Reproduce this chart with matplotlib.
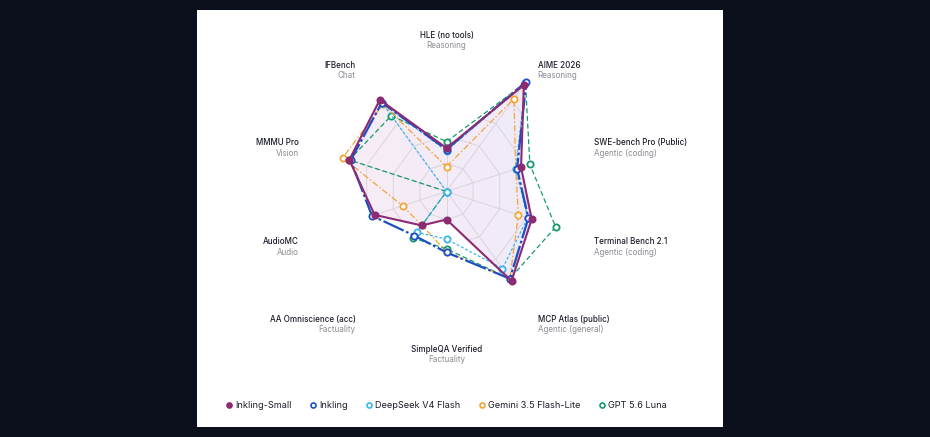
import numpy as np
import matplotlib.pyplot as plt
from matplotlib.lines import Line2D
from matplotlib.patches import Polygon, Rectangle

plt.rcParams['font.family'] = ['Inter', 'DejaVu Sans']

# axes of the radar, clockwise from the top
titles = ['HLE (no tools)', 'AIME 2026', 'SWE-bench Pro (Public)', 'Terminal Bench 2.1',
          'MCP Atlas (public)', 'SimpleQA Verified', 'AA Omniscience (acc)', 'AudioMC',
          'MMMU Pro', 'IFBench']
subtitles = ['Reasoning', 'Reasoning', 'Agentic (coding)', 'Agentic (coding)',
             'Agentic (general)', 'Factuality', 'Factuality', 'Audio', 'Vision', 'Chat']

inkling_small = [31, 94, 56, 64, 79, 20, 30, 54, 73, 81]
inkling = [30, 97, 53, 61.5, 77, 43.5, 39, 56, 72, 78.5]
deepseek = [29, 96, 52, 61, 68, 34, 36, 0, 0, 78]
gemini = [17.7, 82, 52, 54, 77, 43, 30, 33, 78, 77]
gpt = [35.6, 96, 62.6, 82, 77, 41, 41, 0, 73, 67]

W, H = 930, 437
cx, cy = 446.5, 191.5   # centre in pixels
px = 1.4                # pixels per unit (100 -> 140 px)

fig = plt.figure(figsize=(W / 100, H / 100), dpi=100)
fig.patch.set_facecolor('#0b0e1b')

ax = fig.add_axes([0, 0, 1, 1])
ax.axis('off')
ax.patch.set_alpha(0)
ax.add_patch(Rectangle((197 / W, 10 / H), 526 / W, 417 / H, transform=fig.transFigure,
                       facecolor='white', edgecolor='none', zorder=0))

n = len(titles)
ang = np.deg2rad(90 - 36 * np.arange(n))


def xy(vals):
    v = np.asarray(vals, dtype=float)
    x = v * np.cos(ang)
    y = v * np.sin(ang)
    return np.append(x, x[0]), np.append(y, y[0])


# filled area under Inkling-Small, with a soft gradient
fx, fy = xy(inkling_small)
fill = Polygon(np.column_stack([fx, fy]), closed=True, facecolor='none',
               edgecolor='none', transform=ax.transData)
ax.add_patch(fill)
grad = np.linspace(0, 1, 64).reshape(1, -1)
c0 = np.array([249, 237, 245]) / 255
c1 = np.array([238, 234, 249]) / 255
img = c0 + (c1 - c0) * grad[..., None]
im = ax.imshow(img, extent=[-100, 100, -100, 100], aspect='auto', zorder=1,
               interpolation='bilinear')
im.set_clip_path(fill)
ax.set_xlim(-cx / px, (W - cx) / px)
ax.set_ylim(-(H - cy) / px, cy / px)

# web grid, only visible inside the filled area
for r in [20, 40, 60, 80, 100]:
    gx, gy = xy([r] * n)
    ln, = ax.plot(gx, gy, color='#d9d4de', lw=0.7, zorder=2)
    ln.set_clip_path(fill)
for a in ang:
    ln, = ax.plot([0, 100 * np.cos(a)], [0, 100 * np.sin(a)], color='#d9d4de', lw=0.7, zorder=2)
    ln.set_clip_path(fill)

# series
series = [
    (gpt, '#159a6a', (0, (4, 2.2)), 0.9, 'white', 'GPT 5.6 Luna'),
    (gemini, '#f3a534', (0, (5, 1.8, 1.2, 1.8)), 0.9, 'white', 'Gemini 3.5 Flash-Lite'),
    (deepseek, '#38b6ea', (0, (2.2, 1.6)), 0.9, 'white', 'DeepSeek V4 Flash'),
    (inkling, '#1c4fc4', (0, (10, 1.2, 1.2, 1.2)), 1.6, 'white', 'Inkling'),
    (inkling_small, '#8c2a72', '-', 1.5, '#8c2a72', 'Inkling-Small'),
]
for i, (vals, col, ls, lw, mfc, lab) in enumerate(series):
    x, y = xy(vals)
    ax.plot(x, y, color=col, ls=ls, lw=lw, zorder=3 + i)
    ax.plot(x[:-1], y[:-1], 'o', ms=4.5, mfc=mfc, mec=col, mew=1.3, zorder=3 + i)

# axis labels
rl = 155 / px
for a, t, s in zip(ang, titles, subtitles):
    c, sn = np.cos(a), np.sin(a)
    ha = 'left' if c > 0.1 else ('right' if c < -0.1 else 'center')
    lx, ly = rl * c, rl * sn + (1.0 if sn > 0.1 else (-2.5 if sn < -0.1 else 0)) / px
    ax.text(lx, ly, t, ha=ha, va='center', fontsize=5.8, color='#1b1d2a', fontweight='medium')
    ax.text(lx, ly - 10.5 / px, s, ha=ha, va='center', fontsize=5.8, color='#8b8b93')

# legend
handles = []
for vals, col, ls, lw, mfc, lab in reversed(series):
    handles.append(Line2D([], [], ls='none', marker='o', ms=3.6, mfc=mfc, mec=col, mew=1.2,
                          label=lab))
fig.legend(handles=handles, loc='center', bbox_to_anchor=(447 / W, 1 - 406 / H), ncol=5,
           frameon=False, fontsize=6.6, handlelength=0.5, handletextpad=0.4,
           columnspacing=2.1, labelcolor='#1b1d2a')

fig.savefig('out.png', dpi=100, facecolor=fig.get_facecolor())
